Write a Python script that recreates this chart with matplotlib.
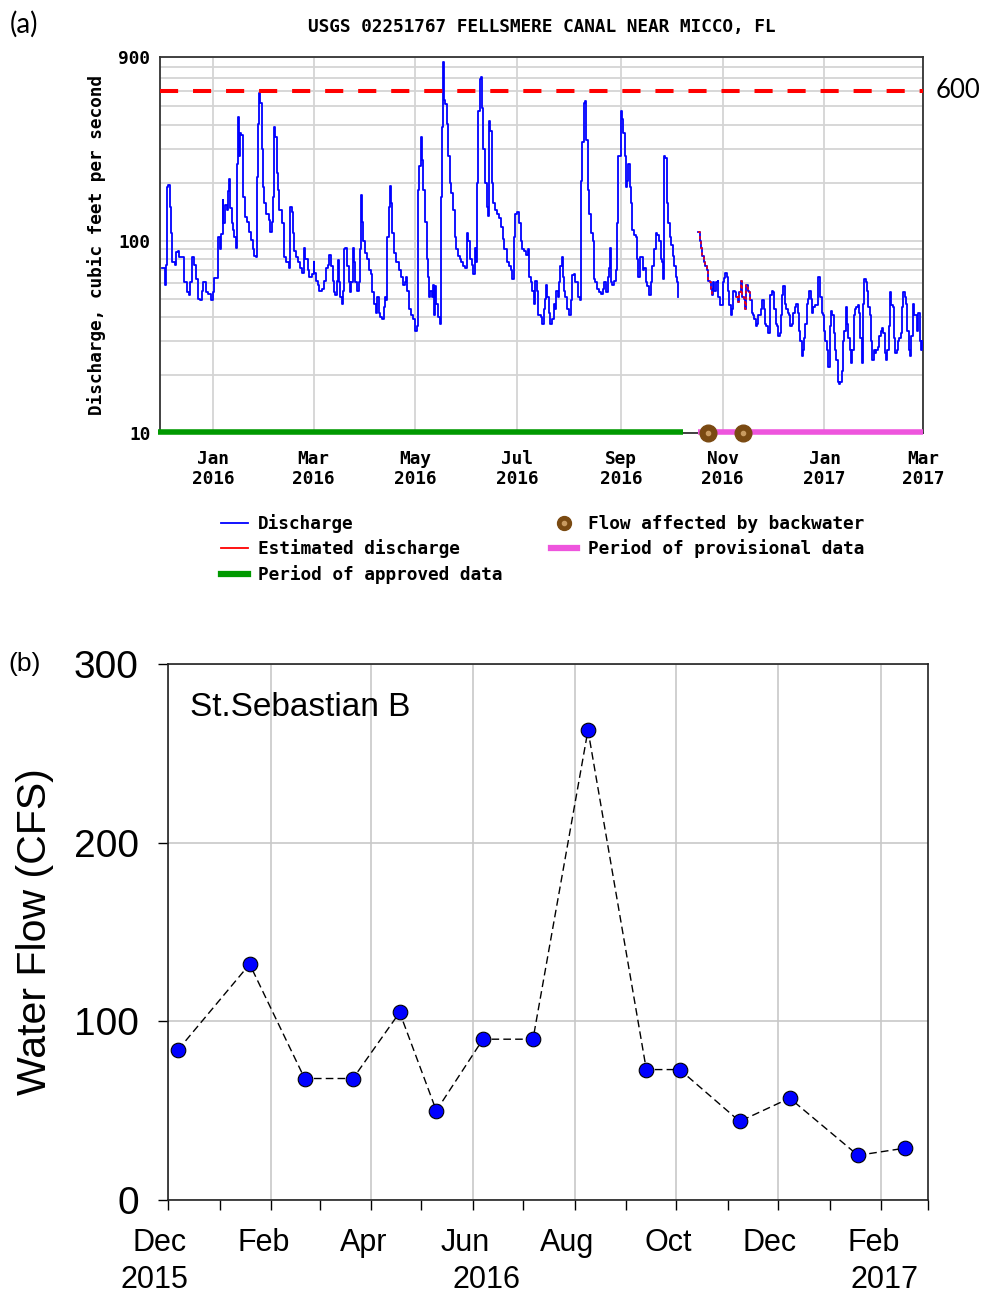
import numpy as np
import matplotlib
matplotlib.use('Agg')
import matplotlib.pyplot as plt
import matplotlib.dates as mdates
import matplotlib.transforms as mtransforms
from matplotlib.lines import Line2D
from matplotlib.ticker import NullFormatter

# ---- panel (a): USGS daily discharge, days counted from 2015-12-01 ----
day0 = np.datetime64('2015-12-01')
approved_days = [0,1.5,2,2.5,3,4,5,5.5,6,8,8.5,9.5,10.5,12.5,13.5,15,16.5,17,18,19.5,20.5,21.5,23,24,25,26.5,28,29.5,31,31.5,
    33.5,34,35,35.5,36.5,37,38,39,40,40.5,41,42,42.5,43.5,44.5,45,45.5,46.5,47,47.5,48.5,49,50,51,52.5,53.5,54.5,55.5,56.5,57,
    57.5,58.5,59,60,60.5,61.5,62.5,64,65,66,66.5,67.5,68,69,69.5,70.5,72,73,73.5,74.5,76,77,78,78.5,79.5,80.5,81.5,83,84,85,
    86,87.5,88.5,90,91,91.5,92.5,93.5,94.5,96,97,98.5,99.5,100.5,101.5,102.5,103,104,105,105.5,106,107,108,108.5,109,110,111,112,
    112.6,113.6,114.6,115.2,116,117,118,118.6,119.2,120,120.8,122,123,124,125.2,126.2,127.2,128.2,129.2,130,131,132.2,133,133.6,134.6,
    135.2,136,136.8,137.4,138.2,139.2,140.6,142,143.2,144.6,145.6,146.6,147.2,148.2,149.6,150.8,152,152.8,153.4,154.2,155.2,156,156.8,158,
    158.8,159.6,160.2,161,161.8,162.6,163.2,164,164.6,165.6,166.6,167.2,167.8,168.4,169.2,170,170.8,171.6,172.6,173.6,174.6,175.6,176.6,
    177.6,178.6,179.6,180.6,181.6,182.8,183.6,184.6,185.6,186.6,187.4,188.4,189,189.6,190.4,191.2,191.8,192.6,193.6,194.6,195.4,196,
    196.8,197.6,198.6,199.6,200.8,202,203.2,204.2,205.2,206.6,208,209.2,210,210.8,211.8,213,214,215,216,217.2,218.2,219.2,220,221,
    222,222.8,223.6,224.6,225.2,226.5,227.5,228.1,228.9,229.7,230.4,231,231.8,232.8,233.8,234.8,235.6,236.4,237.4,238,238.8,239.6,
    240.1,240.9,241.7,242.7,243.7,244.7,245.3,245.9,246.7,247.3,248.3,249.3,250.2,250.8,251.4,252,252.8,253.6,254.2,255.2,256.2,257.2,
    258.2,258.8,259.8,260.7,261.7,262.9,264.1,265.1,266.1,267.1,268.1,268.7,269.3,270,271,272,272.6,273.2,273.6,274.4,275,275.8,
    276.6,277.4,278,278.8,279.6,280.3,281.1,281.9,282.9,283.9,284.7,285.5,286.5,287.3,288.1,288.9,289.9,290.8,291.8,292.8,293.8,
    294.8,295.8,296.8,297.8,298.8,299.8,300.5,301.1,301.7,302.5,303.3,304.3,305.3,306.3,307.1,307.9,308.7,309.3]
approved_cfs = [72,72,59,75,190,195,150,110,77,75,87,88,82,82,61,54,52,61,82,75,63,50,49,55,61,54,53,49,54,64,
    64,105,90,108,162,123,153,144,180,210,147,123,113,105,92,250,441,275,361,355,250,169,133,125,111,101,90,83,82,215,
    406,585,520,300,190,156,138,128,111,125,169,390,345,225,183,144,123,111,82,77,72,150,141,109,88,82,77,72,68,92,
    80,70,65,67,77,68,62,59,55,56,62,72,75,84,74,62,54,52,62,79,61,51,47,55,90,92,74,61,
    54,61,92,77,61,55,61,90,173,125,99,86,80,70,67,54,47,42,51,42,40,39,45,51,49,
    105,150,193,156,109,86,77,70,65,59,61,65,55,44,41,39,34,36,183,245,345,262,183,125,
    80,65,51,55,51,59,41,58,47,40,37,169,390,850,538,515,406,275,200,176,144,105,90,
    83,80,77,74,72,109,100,80,75,67,92,77,200,470,690,711,490,300,200,150,135,420,
    370,200,156,144,138,131,118,102,90,77,74,70,63,105,138,141,123,99,90,88,84,90,65,61,
    55,47,62,55,41,41,40,37,44,50,59,51,42,37,39,47,44,55,51,61,74,82,
    65,55,51,44,41,41,49,66,67,61,61,51,51,49,204,327,520,530,333,183,138,109,
    99,63,61,56,54,53,56,61,54,65,72,92,61,59,62,70,123,200,275,275,470,430,
    361,275,190,205,250,190,156,113,107,105,80,65,82,82,70,72,61,58,52,61,74,
    90,109,107,99,80,77,63,275,270,156,123,105,95,83,74,65,61,51]
prov_days = [321.5,322.5,323.1,323.9,324.7,325.5,326.5,327.5,328.5,329.1,329.9,330.5,331.1,331.9,332.9,333.5,334.5,336,336.8,337.6,
    338.4,339.2,340,340.8,341.6,342.4,343.2,344,345,346,346.9,347.7,348.5,349.3,350.1,350.9,351.7,352.5,353.3,354.1,354.9,355.7,
    356.5,357.3,358.1,358.9,359.7,360.5,361.4,362.2,363,363.8,364.6,365.4,366.2,367,367.8,368.6,369.4,370.2,371,371.8,372.4,373.2,
    374.2,375,375.8,376.6,377.4,378.3,379.3,380.1,380.9,381.7,382.5,383.3,384.1,384.9,385.5,386.3,387.1,387.9,388.7,389.5,390.3,
    391.3,392.1,392.9,393.7,394.3,395.2,396,396.8,397.6,398.4,399.2,400,400.8,401.6,402.4,403.2,404,404.8,405.6,406.4,407.2,408,
    408.8,409.6,410.4,411.2,412,412.9,413.7,414.5,415.3,416.1,416.9,417.7,418.5,419.3,420.1,420.9,421.7,422.5,423.3,424.1,424.9,
    425.7,426.5,427.3,428.1,429,429.8,430.6,431.4,432.2,433,433.8,434.6,435.4,436.2,437,437.8,438.6,439.4,440.2,441,441.8,442.6,
    443.4,444.2,445,445.9,446.7,447.5,448.3,449.1,449.9,450.7,451.5,452.3,453.1,453.9,454.7,455.5,456]
prov_cfs = [111,99,92,83,77,74,70,62,61,56,52,61,55,61,62,51,46,61,64,
    68,65,55,46,41,44,55,54,51,48,54,62,51,50,44,59,55,54,49,42,41,39,36,
    37,41,41,44,49,44,37,36,33,33,52,55,54,44,37,36,32,33,41,52,58,47,
    44,42,41,36,37,42,45,47,42,34,30,25,27,31,37,47,50,55,50,42,45,
    46,46,65,65,51,42,41,34,30,27,22,36,43,41,33,27,24,18.5,18,18.5,21,30,
    34,45,37,31,27,23,27,41,44,45,46,42,31,23,47,63,61,55,45,41,30,
    24,27,26,27,28,32,34,35,33,26,24,27,36,54,46,45,31,26,27,30,31,33,
    45,54,51,47,34,27,25,32,47,41,41,34,42,30,27,30,28]
estimated_ranges = [(321.5, 330), (344, 352.5)]
backwater_dates = ['2016-10-23', '2016-11-13']
approved_period = ['2015-11-29', '2016-10-08']
provisional_period = ['2016-10-17', '2017-03-01']
threshold = 600
top_ticks = ['2016-01-01','2016-03-01','2016-05-01','2016-07-01','2016-09-01','2016-11-01','2017-01-01','2017-03-01']
top_tick_labels = ['Jan\n2016','Mar\n2016','May\n2016','Jul\n2016','Sep\n2016','Nov\n2016','Jan\n2017','Mar\n2017']

# ---- panel (b): sampled water flow ----
sample_dates = ['2015-12-07','2016-01-19','2016-02-21','2016-03-21','2016-04-18','2016-05-10','2016-06-07','2016-07-07',
    '2016-08-09','2016-09-13','2016-10-03','2016-11-08','2016-12-08','2017-01-18','2017-02-15']
flow_cfs = [84,132,68,68,105,50,90,90,263,73,73,44,57,25,29]
years = [('2015','2015-11-23'),('2016','2016-06-09'),('2017','2017-02-03')]

def to_dates(days):
    return day0+(np.asarray(days)*24).round().astype(int).astype('timedelta64[h]')

mono=dict(family='DejaVu Sans Mono',weight='bold',size=12.8)
fig=plt.figure(figsize=(9.82,12.99),dpi=100)
ax1=fig.add_axes([160/982,1-433/1299,763/982,376/1299])
ax2=fig.add_axes([168/982,1-1200/1299,760/982,536/1299])

# panel (a)
ad,pdays=to_dates(approved_days),to_dates(prov_days)
ax1.plot(ad,approved_cfs,color='#0000FF',lw=1.3,zorder=3,drawstyle='steps-post')
ax1.plot(pdays,prov_cfs,color='#0000FF',lw=1.3,zorder=3,drawstyle='steps-post')
pd_arr,pc=np.asarray(prov_days),np.asarray(prov_cfs)
for a,b in estimated_ranges:
    m=(pd_arr>=a)&(pd_arr<=b)
    ax1.plot(to_dates(pd_arr[m]),pc[m],color='#FF0000',lw=1.1,ls=(0,(2,2)),zorder=4,drawstyle='steps-post')
ax1.axhline(threshold,color='#FF0000',lw=2.9,dashes=(4.5,3.7),zorder=5)
ax1.plot(np.array(approved_period,dtype='datetime64[D]'),[10.1,10.1],color='#009900',lw=4,clip_on=False,zorder=6,solid_capstyle='butt')
ax1.plot(np.array(provisional_period,dtype='datetime64[D]'),[10.1,10.1],color='#EE55DD',lw=4,clip_on=False,zorder=6,solid_capstyle='butt')
bw=np.array(backwater_dates,dtype='datetime64[D]')
ax1.plot(bw,[10]*len(bw),ls='',marker='o',ms=12,color='#7A4A12',clip_on=False,zorder=7)
ax1.plot(bw,[10]*len(bw),ls='',marker='o',ms=3,color='#C89A60',clip_on=False,zorder=8)
ax1.set_yscale('log')
ax1.set_ylim(10,900)
ax1.set_xlim(np.datetime64('2015-11-30'),np.datetime64('2017-03-01'))
ax1.set_yticks([10,100,900]); ax1.set_yticklabels(['10','100','900'],fontdict=mono)
ax1.set_yticks([20,30,40,50,60,70,80,90,200,300,400,500,600,700,800],minor=True)
ax1.yaxis.set_minor_formatter(NullFormatter())
ax1.set_xticks(np.array(top_ticks,dtype='datetime64[D]')); ax1.set_xticklabels(top_tick_labels,fontdict=mono,linespacing=1.15)
ax1.tick_params(which='both',length=0)
ax1.tick_params(axis='x',pad=12); ax1.tick_params(axis='y',pad=7)
ax1.grid(axis='y',which='both',color='#d4d4d4',lw=1.3); ax1.grid(axis='x',which='major',color='#d4d4d4',lw=1.3)
for s in ax1.spines.values(): s.set_color('#333333'); s.set_linewidth(1.3)
ax1.set_ylabel('Discharge, cubic feet per second',fontdict=mono)
ax1.yaxis.set_label_coords(-0.071,0.5)
ax1.set_title('USGS 02251767 FELLSMERE CANAL NEAR MICCO, FL',fontdict=mono,pad=18)
ax1.text(1.016,threshold,'600',transform=ax1.get_yaxis_transform(),fontsize=18.5,family='Lato',va='center',ha='left')
fig.text(10/982,1-24/1299,'(a)',fontsize=20,family='Lato',va='center',ha='left')
handles=[Line2D([],[],color='#0000FF',lw=1.3),Line2D([],[],color='#FF0000',lw=1.3),Line2D([],[],color='#009900',lw=4.5),
    (Line2D([],[],ls='',marker='o',ms=10,color='#7A4A12'),Line2D([],[],ls='',marker='o',ms=3,color='#C89A60')),
    Line2D([],[],color='#EE55DD',lw=4.5)]
labels=['Discharge','Estimated discharge','Period of approved data','Flow affected by backwater','Period of provisional data']
fig.legend(handles,labels,ncol=2,loc='upper left',bbox_to_anchor=(221/982,1-514/1299),frameon=False,prop=mono,
    handlelength=1.5,handletextpad=0.6,columnspacing=2.7,labelspacing=0.36,borderpad=0,borderaxespad=0)

# panel (b)
sd=np.array(sample_dates,dtype='datetime64[D]')
ax2.plot(sd,flow_cfs,color='black',lw=1,dashes=(5.5,3),marker='o',ms=10.5,mfc='#0000FF',mec='black',mew=0.8,zorder=3)
ax2.set_ylim(0,300)
ax2.set_xlim(np.datetime64('2015-12-01'),np.datetime64('2017-03-01'))
ax2.set_yticks([0,100,200,300])
ax2.xaxis.set_major_locator(mdates.MonthLocator(bymonth=[12,2,4,6,8,10]))
ax2.xaxis.set_minor_locator(mdates.MonthLocator())
ax2.xaxis.set_major_formatter(mdates.DateFormatter('%b'))
ax2.tick_params(axis='y',labelsize=28,pad=14,length=7,width=1)
ax2.tick_params(axis='x',which='both',labelsize=22,pad=13,length=7,width=1)
for lab in ax2.get_yticklabels()+ax2.get_xticklabels(): lab.set_family('Liberation Sans')
shift=mtransforms.ScaledTranslation(-8/100,0,fig.dpi_scale_trans)
for lab in ax2.get_xticklabels(): lab.set_transform(lab.get_transform()+shift)
ax2.grid(True,color='#c8c8c8',lw=1.2)
for s in ax2.spines.values(): s.set_color('#222222'); s.set_linewidth(1.2)
ax2.set_ylabel('Water Flow (CFS)',fontsize=29.5,family='Liberation Sans')
ax2.yaxis.set_label_coords(-0.15,0.5)
for y,d in years:
    ax2.text(np.datetime64(d),-0.150,y,transform=ax2.get_xaxis_transform(),fontsize=22,family='Liberation Sans',ha='center',va='center')
ax2.text(0.029,0.918,'St.Sebastian B',transform=ax2.transAxes,fontsize=24,family='Liberation Sans',va='center',ha='left')
fig.text(8/982,1-664/1299,'(b)',fontsize=19,family='Liberation Sans',va='center',ha='left')

fig.savefig('out.png',dpi=100)
